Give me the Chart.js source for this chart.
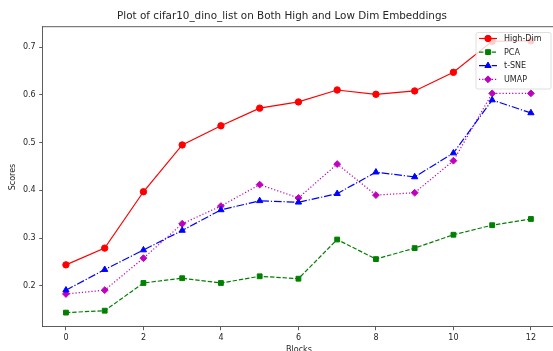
<!DOCTYPE html>
<html>
<head>
<meta charset="utf-8">
<script src="https://cdn.jsdelivr.net/npm/chart.js@4/dist/chart.umd.min.js"></script>
<style>
  html, body { margin: 0; padding: 0; background: #fff; }
  #wrap { width: 553px; height: 351px; }
</style>
</head>
<body>
<div id="wrap"><canvas id="myChart" width="553" height="351"></canvas></div>
<script>
// data
const blocks = [0, 1, 2, 3, 4, 5, 6, 7, 8, 9, 10, 11, 12];
const highDim = [0.244, 0.279, 0.397, 0.495, 0.535, 0.572, 0.585, 0.610, 0.601, 0.608, 0.647, 0.712, 0.713];
const pca     = [0.144, 0.148, 0.206, 0.216, 0.206, 0.220, 0.215, 0.297, 0.256, 0.279, 0.307, 0.327, 0.340];
const tsne    = [0.191, 0.234, 0.275, 0.316, 0.359, 0.378, 0.375, 0.393, 0.438, 0.428, 0.478, 0.589, 0.562];
const umap    = [0.183, 0.191, 0.258, 0.330, 0.367, 0.412, 0.384, 0.455, 0.390, 0.395, 0.462, 0.603, 0.603];
const xTicks = [0, 2, 4, 6, 8, 10, 12];
const yTicks = [0.2, 0.3, 0.4, 0.5, 0.6, 0.7];

const FONT = "'DejaVu Sans', sans-serif";
const TXT = '#262626';

function pts(arr) {
    return arr.map((v, i) => ({x: blocks[i], y: v}));
}

const series = [
    {label: 'High-Dim', data: highDim, color: '#ff0000', dash: [], style: 'circle', r: 3.2},
    {label: 'PCA', data: pca, color: '#008000', dash: [4.4, 1.9], style: 'rect', r: 3.4},
    {label: 't-SNE', data: tsne, color: '#0000ff', dash: [7.7, 1.9, 1.2, 1.9], style: 'triangle', r: 3.6},
    {label: 'UMAP', data: umap, color: '#bf00bf', dash: [1.2, 2.0], style: 'rectRot', r: 3.4}
];

// title, axis labels, legend, top spine
const extras = {
    id: 'extras',
    beforeDraw(chart) {
        const c = chart.ctx;
        c.save();
        c.fillStyle = '#fff';
        c.fillRect(0, 0, chart.width, chart.height);
        c.restore();
    },
    afterDatasetsDraw(chart) {
        const c = chart.ctx;
        const a = chart.chartArea;
        c.save();
        // top spine (right one falls just off the canvas)
        c.strokeStyle = '#333';
        c.lineWidth = 0.8;
        c.beginPath();
        c.moveTo(a.left, a.top);
        c.lineTo(a.right, a.top);
        c.stroke();

        c.fillStyle = TXT;
        c.textAlign = 'center';
        c.textBaseline = 'middle';
        c.font = '10.4px ' + FONT;
        c.fillText('Plot of cifar10_dino_list on Both High and Low Dim Embeddings', 282, 16);
        c.font = '8px ' + FONT;
        c.fillText('Blocks', 299, 349.5);
        c.save();
        c.translate(12.5, 177);
        c.rotate(-Math.PI / 2);
        c.fillText('Scores', 0, 0);
        c.restore();

        // legend box
        const bx = 476, by = 32.5, bw = 75, bh = 56.5;
        c.fillStyle = 'rgba(255,255,255,0.8)';
        c.strokeStyle = 'rgba(204,204,204,0.8)';
        c.lineWidth = 0.8;
        c.beginPath();
        c.roundRect(bx, by, bw, bh, 2);
        c.fill();
        c.stroke();
        series.forEach((s, i) => {
            const y = 38.5 + i * 13.6;
            c.strokeStyle = s.color;
            c.lineWidth = 1.2;
            c.setLineDash(s.dash);
            c.beginPath();
            c.moveTo(479, y);
            c.lineTo(497, y);
            c.stroke();
            c.setLineDash([]);
            c.fillStyle = s.color;
            c.lineWidth = 1;
            Chart.helpers.drawPoint(c, {pointStyle: s.style, radius: s.r, borderWidth: 1, rotation: 0}, 488, y);
            c.fillStyle = TXT;
            c.textAlign = 'left';
            c.font = '8px ' + FONT;
            c.fillText(s.label, 504, y + 0.5);
        });
        c.restore();
    }
};

const ctx = document.getElementById('myChart').getContext('2d');

const chart = new Chart(ctx, {
    type: 'line',
    data: {
        datasets: series.map(s => ({
            label: s.label,
            data: pts(s.data),
            borderColor: s.color,
            backgroundColor: s.color,
            borderWidth: 1.2,
            borderDash: s.dash,
            pointStyle: s.style,
            pointRadius: s.r,
            pointBorderWidth: 1,
            pointBackgroundColor: s.color,
            pointBorderColor: s.color,
            tension: 0,
            clip: false
        }))
    },
    options: {
        responsive: false,
        animation: false,
        events: [],
        layout: {autoPadding: false, padding: {left: 0, right: 0, top: 26.7, bottom: 0}},
        plugins: {
            legend: {display: false},
            title: {display: false},
            tooltip: {enabled: false}
        },
        scales: {
            x: {
                type: 'linear',
                min: -0.6,
                max: 12.57,
                afterBuildTicks: sc => { sc.ticks = xTicks.map(v => ({value: v})); },
                afterFit: sc => { sc.height = 24.3; sc.paddingLeft = 0; sc.paddingRight = 0; },
                grid: {display: true, drawOnChartArea: false, drawTicks: true, tickLength: 3.5, color: '#333', lineWidth: 0.8},
                border: {display: true, color: '#333', width: 0.8},
                ticks: {font: {family: FONT, size: 8}, color: TXT, padding: 2.5, maxRotation: 0}
            },
            y: {
                type: 'linear',
                min: 0.1145,
                max: 0.7425,
                afterBuildTicks: sc => { sc.ticks = yTicks.map(v => ({value: v})); },
                afterFit: sc => { sc.width = 42.7; sc.paddingTop = 0; sc.paddingBottom = 0; },
                grid: {display: true, drawOnChartArea: false, drawTicks: true, tickLength: 3.5, color: '#333', lineWidth: 0.8},
                border: {display: true, color: '#333', width: 0.8},
                ticks: {font: {family: FONT, size: 8}, color: TXT, padding: 3.5, callback: v => v.toFixed(1)}
            }
        }
    },
    plugins: [extras]
});
</script>
</body>
</html>
